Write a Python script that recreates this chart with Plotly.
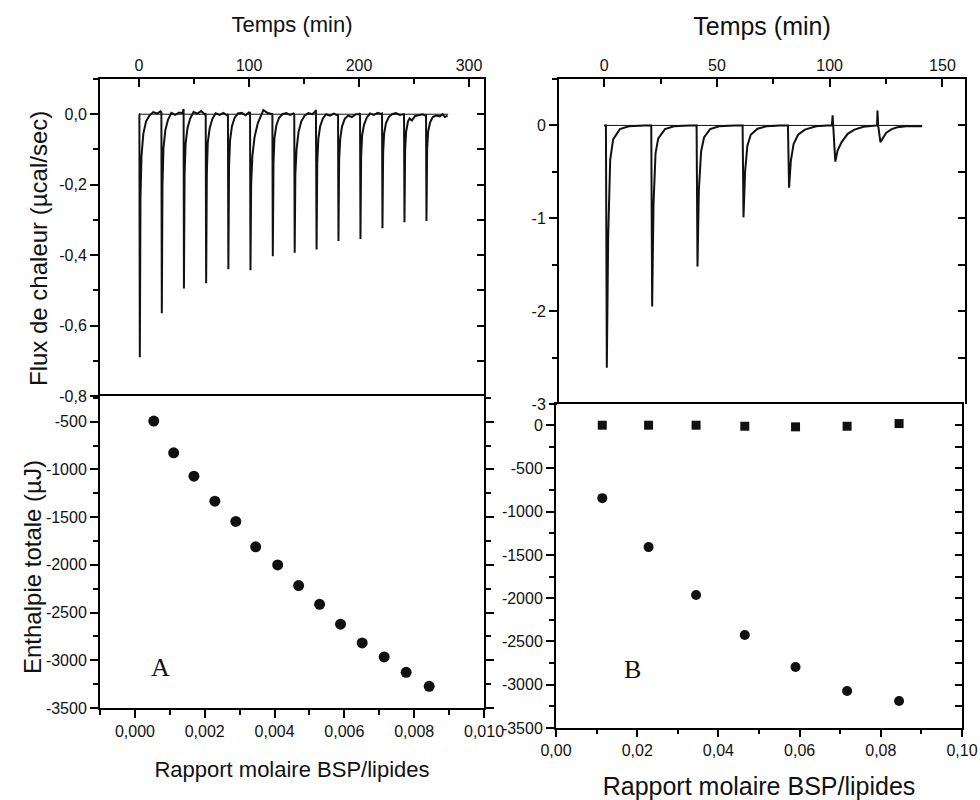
import plotly.graph_objects as go

# ---------------- Panel A : thermogram (top left) ----------------
TIME_A = [0.0, 0.3, 0.7, 1.3, 2.2, 3.9, 6.4, 9.4, 12.9, 16.4, 19.5,
          20.3, 20.7, 21.3, 22.2, 23.9, 26.4, 29.4, 32.9, 36.4, 39.5,
          40.3, 40.5, 40.8, 41.4, 42.3, 44.0, 46.5, 49.5, 53.0, 56.5, 59.6,
          60.6, 61.0, 61.6, 62.5, 64.2, 66.7, 69.7, 73.2, 76.7, 79.8,
          80.8, 81.2, 81.8, 82.7, 84.4, 86.9, 89.9, 93.4, 96.9, 99.9,
          100.9, 101.3, 101.9, 103.0, 105.0, 108.0, 111.0, 113.0, 116.5, 120.0,
          121.2, 121.6, 122.2, 123.1, 124.8, 127.3, 130.3, 133.8, 137.3, 140.3,
          141.1, 141.5, 142.1, 143.2, 145.0, 147.5, 150.5, 154.0, 157.5, 160.2,
          160.8, 161.4, 162.0, 163.0, 164.6, 167.1, 170.1, 173.6, 177.1, 180.2,
          180.9, 181.3, 181.9, 182.9, 184.5, 187.0, 190.0, 193.5, 197.0, 200.1,
          200.9, 201.3, 201.9, 202.8, 204.5, 207.0, 210.0, 213.5, 217.0, 220.1,
          220.9, 221.3, 221.9, 222.8, 224.5, 227.0, 230.0, 233.5, 237.0, 240.1,
          240.9, 241.3, 241.9, 242.8, 244.5, 246.0, 248.0, 251.0, 254.5, 258.0, 260.1,
          260.9, 261.3, 261.9, 262.8, 264.5, 267.0, 270.0, 273.5, 276.0, 278.0, 280.5]
FLUX_A = [0.0, 0.0, -0.69, -0.24, -0.12, -0.055, -0.02, -0.004, 0.006, 0.002, 0.008,
          0.005, -0.565, -0.2, -0.096, -0.045, -0.015, 0.004, -0.002, 0.005, 0.003,
          0.012, 0.015, -0.495, -0.17, -0.085, -0.04, -0.012, 0.006, 0.002, 0.009, 0.0,
          0.002, -0.48, -0.17, -0.08, -0.04, -0.013, 0.003, -0.002, 0.004, -0.003,
          0.0, -0.44, -0.15, -0.075, -0.035, -0.01, 0.002, 0.004, -0.003, 0.005,
          0.004, -0.443, -0.2, -0.12, -0.065, -0.025, 0.0, 0.012, 0.004, 0.002,
          0.0, -0.403, -0.14, -0.068, -0.032, -0.01, 0.0, 0.003, -0.002, 0.002,
          0.0, -0.393, -0.17, -0.1, -0.05, -0.02, -0.004, 0.003, 0.0, 0.008,
          0.012, -0.384, -0.14, -0.07, -0.035, -0.012, 0.0, -0.004, 0.002, -0.003,
          0.0, -0.36, -0.13, -0.07, -0.035, -0.013, -0.004, -0.008, 0.0, 0.0,
          0.003, -0.354, -0.12, -0.06, -0.03, -0.01, 0.002, -0.002, 0.004, 0.001,
          0.002, -0.324, -0.11, -0.055, -0.025, -0.008, 0.0, 0.003, -0.002, 0.0,
          0.0, -0.307, -0.1, -0.05, -0.02, -0.012, -0.018, -0.005, -0.002, 0.0, -0.004,
          -0.003, -0.303, -0.1, -0.05, -0.024, -0.008, -0.004, -0.006, 0.0, -0.008, -0.004]
BASE_A_T = [0, 281]
BASE_A_Y = [0, 0]

# ---------------- Panel A : total enthalpy (bottom left) ----------------
RATIO_A = [0.00054, 0.00111, 0.00169, 0.00229, 0.00289, 0.00346, 0.00409,
           0.00469, 0.00529, 0.00589, 0.00651, 0.00714, 0.00777, 0.00843]
ENTH_A = [-493, -825, -1070, -1332, -1545, -1811, -2000,
          -2217, -2413, -2622, -2818, -2965, -3126, -3273]

# ---------------- Panel B : thermogram (top right) ----------------
TIME_B = [0.0, 0.8, 1.2, 1.8, 2.7, 4.0, 7.0, 11.0, 18.0,
          20.9, 21.3, 21.9, 22.8, 24.0, 27.0, 31.0, 38.0,
          41.0, 41.4, 42.0, 43.0, 44.3, 47.0, 51.0, 58.0,
          61.4, 61.8, 62.5, 63.5, 65.0, 68.0, 72.0, 78.0,
          81.5, 82.0, 82.8, 84.0, 86.0, 89.0, 94.0, 99.0,
          101.0, 101.3, 101.6, 102.5, 103.5, 105.3, 108.0, 111.0, 115.0, 120.0,
          121.0, 121.2, 121.5, 122.5, 123.5, 125.0, 127.5, 130.0, 134.0, 141.0]
FLUX_B = [0.0, 0.0, -2.61, -1.2, -0.37, -0.15, -0.04, -0.01, 0.0,
          0.0, -1.95, -0.85, -0.3, -0.14, -0.04, -0.01, 0.0,
          0.0, -1.52, -0.7, -0.28, -0.13, -0.04, -0.01, 0.0,
          0.0, -0.99, -0.5, -0.22, -0.1, -0.035, -0.01, 0.0,
          0.0, -0.67, -0.38, -0.2, -0.1, -0.045, -0.01, 0.0,
          0.0, 0.11, 0.0, -0.39, -0.27, -0.18, -0.09, -0.045, -0.015, 0.0,
          0.0, 0.16, 0.0, -0.18, -0.14, -0.08, -0.04, -0.02, -0.01, -0.01]
BASE_B_T = [0, 141]
BASE_B_Y = [0, 0]

# ---------------- Panel B : total enthalpy (bottom right) ----------------
RATIO_B = [0.0114, 0.0228, 0.0345, 0.0465, 0.0590, 0.0717, 0.0845]
ENTH_B = [-843, -1409, -1963, -2425, -2795, -3072, -3187]
CTRL_B = [0, 0, 0, -12, -19, -12, 19]

# ---------------- tick labels ----------------
TICKS_FLUX_A = [0, -0.2, -0.4, -0.6, -0.8]
TEXT_FLUX_A = ["0,0", "-0,2", "-0,4", "-0,6", "-0,8"]
TICKS_TIME_A = [0, 100, 200, 300]
TICKS_ENTH = [0, -500, -1000, -1500, -2000, -2500, -3000, -3500]
TEXT_ENTH = ["0", "-500", "-1000", "-1500", "-2000", "-2500", "-3000", "-3500"]
TICKS_RATIO_A = [0, 0.002, 0.004, 0.006, 0.008, 0.010]
TEXT_RATIO_A = ["0,000", "0,002", "0,004", "0,006", "0,008", "0,010"]
TICKS_FLUX_B = [0, -1, -2, -3]
TEXT_FLUX_B = ["0", "-1", "-2", "-3"]
TICKS_TIME_B = [0, 50, 100, 150]
TICKS_RATIO_B = [0, 0.02, 0.04, 0.06, 0.08, 0.10]
TEXT_RATIO_B = ["0,00", "0,02", "0,04", "0,06", "0,08", "0,10"]

W, H = 980, 800
FONT = "Liberation Sans, Arial, sans-serif"
INK = "black"
MARK = "#111111"


def px_x(a, b):
    return [a / W, b / W]


def px_y(top, bottom):
    return [1 - bottom / H, 1 - top / H]


DOM_TL_X, DOM_TL_Y = px_x(100, 484), px_y(79, 396)
DOM_BL_X, DOM_BL_Y = px_x(100, 484), px_y(396, 708)
DOM_TR_X, DOM_TR_Y = px_x(559, 965), px_y(79, 404)
DOM_BR_X, DOM_BR_Y = px_x(556, 962), px_y(404, 728)

fig = go.Figure()

line_style = dict(color=MARK, width=2)
thin_style = dict(color=MARK, width=1)

# main traces first
fig.add_trace(go.Scatter(x=TIME_A, y=FLUX_A, mode="lines", line=line_style,
                         xaxis="x", yaxis="y", showlegend=False))
fig.add_trace(go.Scatter(x=RATIO_A, y=ENTH_A, mode="markers",
                         marker=dict(symbol="circle", size=11, color=MARK),
                         xaxis="x2", yaxis="y2", showlegend=False))
fig.add_trace(go.Scatter(x=TIME_B, y=FLUX_B, mode="lines", line=line_style,
                         xaxis="x3", yaxis="y3", showlegend=False))
fig.add_trace(go.Scatter(x=RATIO_B, y=ENTH_B, mode="markers",
                         marker=dict(symbol="circle", size=10, color=MARK),
                         xaxis="x4", yaxis="y4", showlegend=False))
# traces on the right-hand (inward-tick) axes, same ranges as the main axes
fig.add_trace(go.Scatter(x=BASE_A_T, y=BASE_A_Y, mode="lines", line=thin_style,
                         xaxis="x", yaxis="y5", showlegend=False, hoverinfo="skip"))
fig.add_trace(go.Scatter(x=BASE_B_T, y=BASE_B_Y, mode="lines", line=thin_style,
                         xaxis="x3", yaxis="y7", showlegend=False, hoverinfo="skip"))
fig.add_trace(go.Scatter(x=RATIO_B, y=CTRL_B, mode="markers",
                         marker=dict(symbol="square", size=9, color=MARK),
                         xaxis="x4", yaxis="y8", showlegend=False))

tickfont = dict(family=FONT, size=16, color=MARK)
base_axis = dict(showline=True, linecolor=INK, linewidth=2, showgrid=False,
                 zeroline=False, tickcolor=INK, tickwidth=2, tickfont=tickfont,
                 automargin=False)


def ax(**kw):
    d = dict(base_axis)
    d.update(kw)
    return d


def minor(step, direction, length=5):
    return dict(dtick=step, tick0=0, ticks=direction, ticklen=length, tickcolor=INK, tickwidth=2)


RANGE_TIME_A = [-35.5, 313.6]
RANGE_FLUX_A = [-0.8, 0.1]
RANGE_RATIO_A = [-0.001, 0.010]
RANGE_ENTH_A = [-3500, -230]
RANGE_TIME_B = [-20, 160]
RANGE_FLUX_B = [-3, 0.5]
RANGE_RATIO_B = [0, 0.10]
RANGE_ENTH_B = [-3500, 245]

fig.update_layout(
    width=W, height=H, autosize=False,
    margin=dict(l=0, r=0, t=0, b=0),
    paper_bgcolor="white", plot_bgcolor="white",
    font=dict(family=FONT, color=MARK),
    showlegend=False,
    # top left (its lower border is the top border of the panel below)
    xaxis=ax(domain=DOM_TL_X, anchor="y", side="top", range=RANGE_TIME_A, mirror=False,
             tickvals=TICKS_TIME_A, ticks="inside", ticklen=8, minor=minor(50, "inside"),
             title=dict(text="Temps (min)", font=dict(family=FONT, size=22), standoff=18)),
    yaxis=ax(domain=DOM_TL_Y, anchor="x", range=RANGE_FLUX_A,
             tickvals=TICKS_FLUX_A, ticktext=TEXT_FLUX_A, ticks="outside", ticklen=8,
             minor=minor(0.1, "outside")),
    # bottom left
    xaxis2=ax(domain=DOM_BL_X, anchor="y2", range=RANGE_RATIO_A, mirror=True,
              tickvals=TICKS_RATIO_A, ticktext=TEXT_RATIO_A, ticks="outside", ticklen=8,
              minor=minor(0.001, "outside"),
              title=dict(text="Rapport molaire BSP/lipides", font=dict(family=FONT, size=22), standoff=22)),
    yaxis2=ax(domain=DOM_BL_Y, anchor="x2", range=RANGE_ENTH_A, mirror="allticks",
              tickvals=TICKS_ENTH, ticktext=TEXT_ENTH, ticks="outside", ticklen=8,
              minor=minor(250, "outside")),
    # top right
    xaxis3=ax(domain=DOM_TR_X, anchor="y3", side="top", range=RANGE_TIME_B, mirror=False,
              tickvals=TICKS_TIME_B, ticks="inside", ticklen=8, minor=minor(25, "inside"),
              title=dict(text="Temps (min)", font=dict(family=FONT, size=25), standoff=14)),
    yaxis3=ax(domain=DOM_TR_Y, anchor="x3", range=RANGE_FLUX_B,
              tickvals=TICKS_FLUX_B, ticktext=TEXT_FLUX_B, ticks="outside", ticklen=8,
              minor=minor(0.5, "outside")),
    # bottom right
    xaxis4=ax(domain=DOM_BR_X, anchor="y4", range=RANGE_RATIO_B, mirror=True,
              tickvals=TICKS_RATIO_B, ticktext=TEXT_RATIO_B, ticks="outside", ticklen=7,
              minor=minor(0.01, "outside", 4),
              title=dict(text="Rapport molaire BSP/lipides", font=dict(family=FONT, size=25), standoff=20)),
    yaxis4=ax(domain=DOM_BR_Y, anchor="x4", range=RANGE_ENTH_B,
              tickvals=TICKS_ENTH, ticktext=TEXT_ENTH, ticks="outside", ticklen=8,
              minor=minor(250, "outside")),
    # right-hand axes with inward ticks
    yaxis5=ax(overlaying="y", anchor="x", side="right", range=RANGE_FLUX_A, dtick=0.1, tick0=0,
              ticks="inside", ticklen=7, showticklabels=False),
    yaxis7=ax(overlaying="y3", anchor="x3", side="right", range=RANGE_FLUX_B, dtick=0.5, tick0=0,
              ticks="inside", ticklen=7, showticklabels=False),
    yaxis8=ax(overlaying="y4", anchor="x4", side="right", range=RANGE_ENTH_B, dtick=250, tick0=0,
              ticks="inside", ticklen=7, showticklabels=False),
)

annots = [
    dict(text="Flux de chaleur (µcal/sec)", x=38 / W, y=1 - 249 / H, textangle=-90,
         font=dict(family=FONT, size=24, color=MARK)),
    dict(text="Enthalpie totale (µJ)", x=32 / W, y=1 - 567 / H, textangle=-90,
         font=dict(family=FONT, size=24, color=MARK)),
    dict(text="A", x=160 / W, y=1 - 667 / H,
         font=dict(family="Liberation Serif, Times New Roman, serif", size=26, color=MARK)),
    dict(text="B", x=632 / W, y=1 - 669 / H,
         font=dict(family="Liberation Serif, Times New Roman, serif", size=26, color=MARK)),
]
for a in annots:
    a.update(xref="paper", yref="paper", showarrow=False, xanchor="center", yanchor="middle")
fig.update_layout(annotations=annots)

fig.write_html("out.html", config={"displayModeBar": False},
               post_script="document.body.style.margin='0px';")
